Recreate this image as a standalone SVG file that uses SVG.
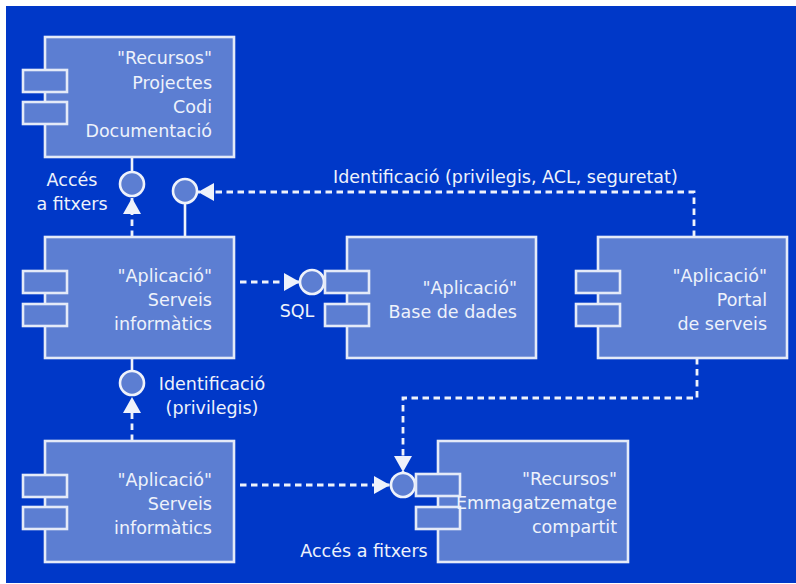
<svg xmlns="http://www.w3.org/2000/svg" width="796" height="584" viewBox="0 0 796 584">
<defs>
<style>
.box{fill:#5c7ed2;stroke:#e4eaf8;stroke-width:2.6}
.port{fill:#5c7ed2;stroke:#e4eaf8;stroke-width:2.6}
.iface{fill:#5c7ed2;stroke:#eef2fb;stroke-width:2.6}
.solid{fill:none;stroke:#eef2fb;stroke-width:2.6}
.dash{fill:none;stroke:#eef2fb;stroke-width:2.8;stroke-dasharray:6.5 4.5}
text{font-family:"DejaVu Sans","Liberation Sans",sans-serif;font-size:17.5px;fill:#eef2fb}
.r{text-anchor:end}
.m{text-anchor:middle}
</style>
<marker id="arr" markerUnits="userSpaceOnUse" markerWidth="16" markerHeight="18" viewBox="0 0 16 18" refX="16" refY="9" orient="auto">
<path d="M0,0 L16,9 L0,18 z" fill="#eef2fb"/>
</marker>
</defs>
<rect x="0" y="0" width="796" height="584" fill="#ffffff"/>
<rect x="6" y="6" width="790" height="577" fill="#0038c8"/>

<g id="connectors">
<path class="solid" d="M132,157 L132,172"/>
<path class="dash" d="M132,237 L132,198" marker-end="url(#arr)"/>
<path class="solid" d="M185,203 L185,237"/>
<path class="dash" d="M694,237 L694,192 L198,192" marker-end="url(#arr)"/>
<path class="dash" d="M240,282 L300,282" marker-end="url(#arr)"/>
<path class="solid" d="M132,358 L132,371"/>
<path class="dash" d="M132,441 L132,397" marker-end="url(#arr)"/>
<path class="dash" d="M240,485 L390,485" marker-end="url(#arr)"/>
<path class="dash" d="M697,358 L697,398 L403,398 L403,472" marker-end="url(#arr)"/>
<circle class="iface" cx="132" cy="184" r="12"/>
<circle class="iface" cx="185" cy="191" r="12"/>
<circle class="iface" cx="312" cy="282" r="12"/>
<circle class="iface" cx="132" cy="383" r="12"/>
<circle class="iface" cx="403" cy="485" r="12"/>
<text x="72" y="186" class="m">Accés</text>
<text x="72" y="210" class="m">a fitxers</text>
<text x="333" y="183">Identificació (privilegis, ACL, seguretat)</text>
<text x="297" y="317" class="m">SQL</text>
<text x="212" y="390" class="m">Identificació</text>
<text x="212" y="414" class="m">(privilegis)</text>
<text x="364" y="557" class="m">Accés a fitxers</text>
</g>

<g id="recursos-projectes">
<rect class="box" x="45" y="37" width="189" height="120"/>
<rect class="port" x="23" y="70" width="44" height="22"/>
<rect class="port" x="23" y="102" width="44" height="22"/>
<text x="212" y="64" class="r">"Recursos"</text>
<text x="212" y="88.5" class="r">Projectes</text>
<text x="212" y="113" class="r">Codi</text>
<text x="212" y="137" class="r">Documentació</text>
</g>

<g id="aplicacio-serveis-1">
<rect class="box" x="45" y="237" width="189" height="121"/>
<rect class="port" x="23" y="271" width="44" height="22"/>
<rect class="port" x="23" y="304" width="44" height="22"/>
<text x="212" y="282" class="r">"Aplicació"</text>
<text x="212" y="306" class="r">Serveis</text>
<text x="212" y="330" class="r">informàtics</text>
</g>

<g id="aplicacio-base-dades">
<rect class="box" x="347" y="237" width="189" height="121"/>
<rect class="port" x="325" y="271" width="44" height="22"/>
<rect class="port" x="325" y="304" width="44" height="22"/>
<text x="517" y="294" class="r">"Aplicació"</text>
<text x="517" y="318" class="r">Base de dades</text>
</g>

<g id="aplicacio-portal">
<rect class="box" x="598" y="237" width="189" height="121"/>
<rect class="port" x="576" y="271" width="44" height="22"/>
<rect class="port" x="576" y="304" width="44" height="22"/>
<text x="767" y="282" class="r">"Aplicació"</text>
<text x="767" y="306" class="r">Portal</text>
<text x="767" y="330" class="r">de serveis</text>
</g>

<g id="aplicacio-serveis-2">
<rect class="box" x="45" y="441" width="189" height="121"/>
<rect class="port" x="23" y="475" width="44" height="22"/>
<rect class="port" x="23" y="507" width="44" height="22"/>
<text x="212" y="486" class="r">"Aplicació"</text>
<text x="212" y="510" class="r">Serveis</text>
<text x="212" y="534" class="r">informàtics</text>
</g>

<g id="recursos-emmagatzematge">
<rect class="box" x="438" y="441" width="190" height="121"/>
<rect class="port" x="416" y="474" width="44" height="22"/>
<rect class="port" x="416" y="507" width="44" height="22"/>
<text x="617" y="485" class="r">"Recursos"</text>
<text x="617" y="509" class="r">Emmagatzematge</text>
<text x="617" y="533" class="r">compartit</text>
</g>
</svg>
